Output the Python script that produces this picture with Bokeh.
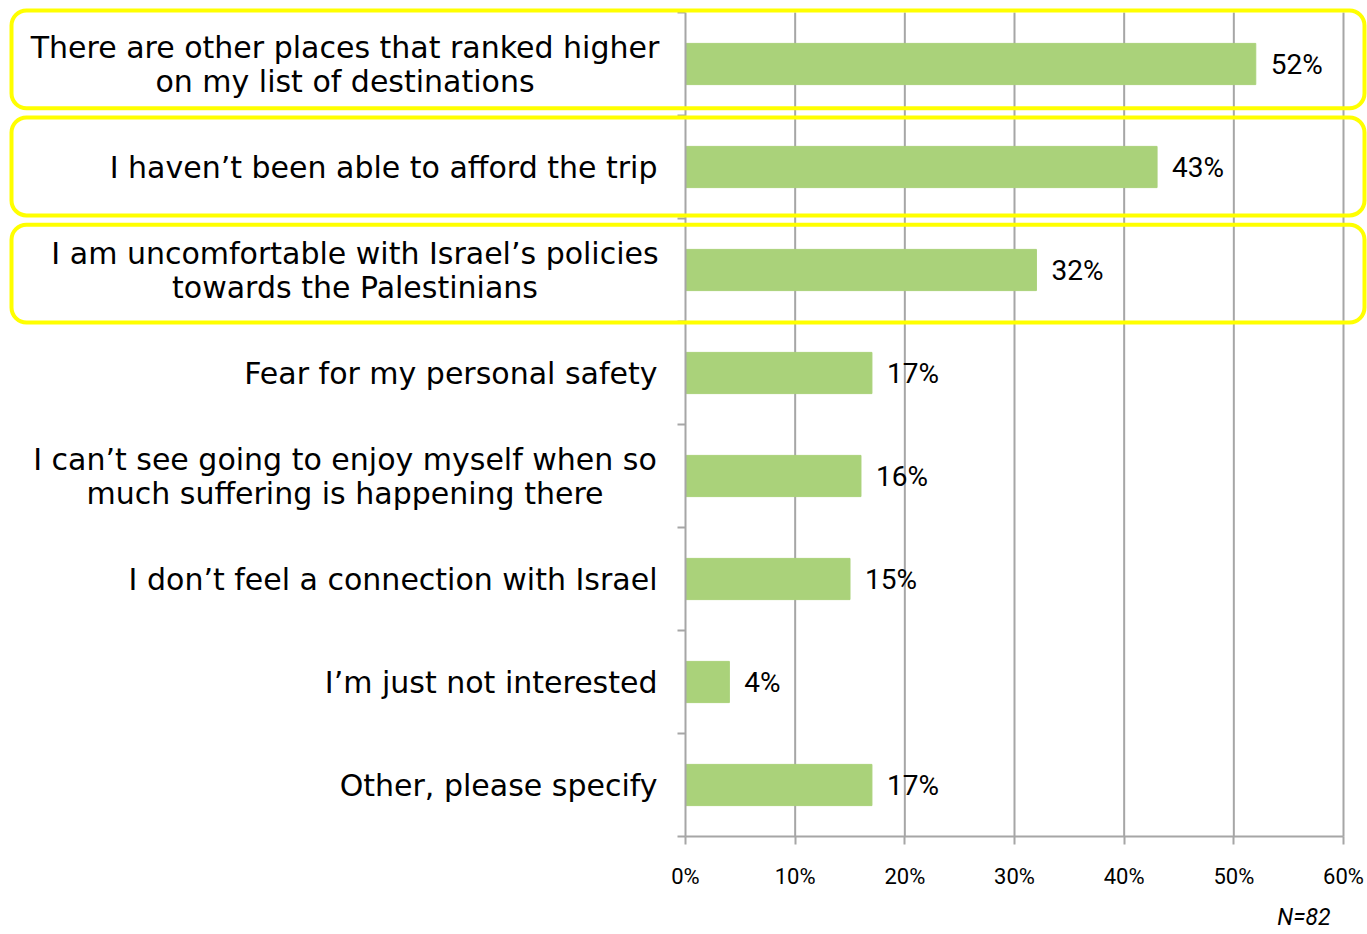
from bokeh.plotting import figure
from bokeh.models import FixedTicker, BoxAnnotation, Range1d
from bokeh.core.properties import value
from bokeh.embed import file_html
from bokeh.resources import INLINE

categories = [
    ["There are other places that ranked higher", "on my list of destinations"],
    ["I haven\u2019t been able to afford the trip"],
    ["I am uncomfortable with Israel\u2019s policies", "towards the Palestinians"],
    ["Fear for my personal safety"],
    ["I can\u2019t see going to enjoy myself when so", "much suffering is happening there"],
    ["I don\u2019t feel a connection with Israel"],
    ["I\u2019m just not interested"],
    ["Other, please specify"],
]
values = [52, 43, 32, 17, 16, 15, 4, 17]
x_ticks = [0, 10, 20, 30, 40, 50, 60]
x_tick_labels = ["0%", "10%", "20%", "30%", "40%", "50%", "60%"]
highlighted = [0, 1, 2]
note = "N=82"

# ---- layout / style constants (pixels) ----
W, H = 1367, 934
PLOT_L, PLOT_R, PLOT_T, PLOT_B = 685, 1343, 12, 836
LABEL_FONT = "DejaVu Sans"
NUM_FONT = "Roboto"
GRAY = "#A6A6A6"
GREEN = "#AAD27A"
YELLOW = "#FFFF00"
LABEL_GAP = 28          # gap between label block and axis
LINE_SEP = 17           # half distance between the two lines of a label
FIRST_LINE_W = [625, 0, 605, 0, 625, 0, 0, 0]  # approx width of first line for centring

n = len(categories)
xmax = x_ticks[-1]
xs = (PLOT_R - PLOT_L) / xmax
ys = (PLOT_B - PLOT_T) / n

p = figure(width=W, height=H, output_backend="svg", toolbar_location=None,
           x_range=Range1d(-PLOT_L / xs, xmax + (W - PLOT_R) / xs),
           y_range=Range1d(-(H - PLOT_B) / ys, n + PLOT_T / ys),
           min_border=0)
p.min_border_left = 0
p.min_border_right = 0
p.min_border_top = 0
p.min_border_bottom = 0
p.outline_line_color = None
p.background_fill_color = "white"
p.border_fill_color = "white"
p.xgrid.grid_line_color = None
p.ygrid.grid_line_color = None

ypos = [n - i - 0.5 for i in range(n)]
bounds = [float(i) for i in range(n + 1)]

# vertical gridlines
p.segment(x0=x_ticks[1:], x1=x_ticks[1:], y0=[0] * (len(x_ticks) - 1),
          y1=[n] * (len(x_ticks) - 1), line_color=GRAY, line_width=2)

# bars
p.hbar(y=ypos, left=0, right=values, height=0.4, color=GREEN)

# value labels
p.text(x=values, y=ypos, text=[f"{v}%" for v in values], x_offset=15,
       text_baseline="middle", text_align="left", text_color="black",
       text_font=value(NUM_FONT), text_font_size="28px")

# category labels
for i, lines in enumerate(categories):
    y = ypos[i]
    if len(lines) == 1:
        p.text(x=[0], y=[y], text=[lines[0]], x_offset=-LABEL_GAP,
               text_align="right", text_baseline="middle", text_color="black",
               text_font=value(LABEL_FONT), text_font_size="30px")
    else:
        cx = -(LABEL_GAP + FIRST_LINE_W[i] / 2)
        for k, line in enumerate(lines):
            p.text(x=[0], y=[y], text=[line], x_offset=cx,
                   y_offset=(-LINE_SEP if k == 0 else LINE_SEP),
                   text_align="center", text_baseline="middle", text_color="black",
                   text_font=value(LABEL_FONT), text_font_size="30px")

# highlight boxes
for i in highlighted:
    top = n - i + 0.02 - 0.04 * i
    bottom = n - i - 1 + 0.07 - 0.04 * i
    p.add_layout(BoxAnnotation(left=-(PLOT_L - 11) / xs, right=xmax + (1364 - PLOT_R) / xs,
                               top=top, bottom=bottom,
                               fill_alpha=0, line_color=YELLOW, line_alpha=1.0,
                               line_width=4, border_radius=15))

# x axis
xa = p.xaxis[0]
xa.fixed_location = 0
xa.bounds = (0, xmax)
xa.ticker = FixedTicker(ticks=x_ticks)
xa.major_label_overrides = {t: l for t, l in zip(x_ticks, x_tick_labels)}
xa.axis_line_color = GRAY
xa.axis_line_width = 2
xa.major_tick_line_color = GRAY
xa.major_tick_line_width = 2
xa.major_tick_out = 8
xa.major_tick_in = 0
xa.minor_tick_line_color = None
xa.major_label_standoff = 19
xa.major_label_text_font = NUM_FONT
xa.major_label_text_font_size = "22px"
xa.major_label_text_color = "black"

# y axis
ya = p.yaxis[0]
ya.fixed_location = 0
ya.bounds = (0, n)
ya.ticker = FixedTicker(ticks=[], minor_ticks=bounds)
ya.axis_line_color = GRAY
ya.axis_line_width = 2
ya.major_tick_line_color = None
ya.major_label_text_font_size = "0px"
ya.minor_tick_line_color = GRAY
ya.minor_tick_line_width = 2
ya.minor_tick_out = 8
ya.minor_tick_in = 0

# sample-size note
p.text(x=[xmax], y=[0], text=[note], x_offset=-13, y_offset=81,
       text_align="right", text_baseline="middle", text_color="black",
       text_font=value(NUM_FONT), text_font_style="italic", text_font_size="23px")

open("out.html", "w").write(file_html(p, INLINE))
